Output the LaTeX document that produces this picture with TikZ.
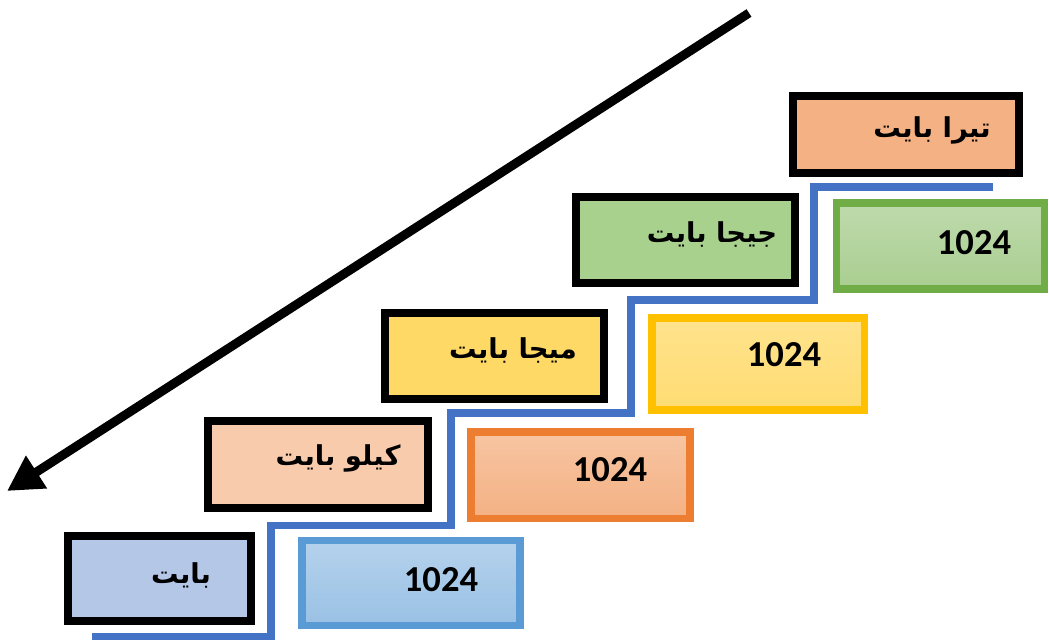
\documentclass[tikz,border=0pt]{standalone}
\usepackage{fontspec}
\setmainfont{Carlito}
\newfontfamily\arabicfont[Script=Arabic]{DejaVu Sans}
\TeXXeTstate=1
\usetikzlibrary{arrows.meta}

\definecolor{bytefill}{HTML}{B4C7E7}
\definecolor{kilofill}{HTML}{F8CBAD}
\definecolor{megafill}{HTML}{FFD966}
\definecolor{gigafill}{HTML}{A9D18E}
\definecolor{terafill}{HTML}{F4B183}
\definecolor{stairblue}{HTML}{4472C4}
\definecolor{numblue}{HTML}{5B9BD5}
\definecolor{numorange}{HTML}{ED7D31}
\definecolor{numgold}{HTML}{FFC000}
\definecolor{numgreen}{HTML}{70AD47}

\begin{document}
\begin{tikzpicture}[x=0.025cm, y=-0.025cm,
      unitbox/.style 2 args={draw=black, line width=5.7pt, inner sep=0pt,
                    minimum width=#1*0.025cm, minimum height=#2*0.025cm},
      numbox/.style 2 args={line width=5pt, inner sep=0pt,
                    minimum width=#1*0.025cm, minimum height=#2*0.025cm},
      unittxt/.style={inner sep=0pt, font=\arabicfont\bfseries\fontsize{19.5}{24}\selectfont},
      numtxt/.style={inner sep=0pt, font=\bfseries\fontsize{26}{30}\selectfont},
      stair/.style={draw=stairblue, line width=5pt}]

    \useasboundingbox (0,0) rectangle (1049,641);

    % staircase behind the boxes
    \draw[stair] (92,636) -- (271,636) |- (451,525) |- (631,413) |- (814,300) |- (993,187);

    % unit boxes (black frame)
    \node[unitbox={183}{85}, fill=bytefill] (byte) at (159.5,578.5) {};
    \node[unitbox={220}{87}, fill=kilofill] (kilo) at (318,464.5) {};
    \node[unitbox={219}{86}, fill=megafill] (mega) at (494.5,356) {};
    \node[unitbox={219}{86}, fill=gigafill] (giga) at (685.5,240) {};
    \node[unitbox={226}{77}, fill=terafill] (tera) at (906,134.5) {};

    \node[unittxt] (bytet) at (181,575) {\beginR بايت\endR};
    \node[unittxt] (kilot) at (338,458) {\beginR كيلو بايت\endR};
    \node[unittxt] (megat) at (513,350) {\beginR ميجا بايت\endR};
    \node[unittxt] (gigat) at (712,234) {\beginR جيجا بايت\endR};
    \node[unittxt] (terat) at (932,130) {\beginR تيرا بايت\endR};

    % factor boxes (coloured frame, light gradient)
    \node[numbox={218}{85}, draw=numblue,   top color=numblue!45!white,   bottom color=numblue!62!white]   (f1) at (411,582.5) {};
    \node[numbox={219}{86}, draw=numorange, top color=numorange!45!white, bottom color=numorange!60!white] (f2) at (580.5,475) {};
    \node[numbox={212}{92}, draw=numgold,   top color=numgold!45!white,   bottom color=numgold!55!white]   (f3) at (758,364) {};
    \node[numbox={208}{86}, draw=numgreen,  top color=numgreen!45!white,  bottom color=numgreen!60!white]  (f4) at (940,246) {};

    \node[numtxt] (f1t) at (441,580) {1024};
    \node[numtxt] (f2t) at (610,470) {1024};
    \node[numtxt] (f3t) at (784,355) {1024};
    \node[numtxt] (f4t) at (974,243) {1024};

    % direction arrow
    \coordinate (arrtop) at (749,13);
    \coordinate (arrtip) at (7,491);
    \draw[line width=6.4pt, -{Triangle[length=25pt, width=26pt]}] (arrtop) -- (arrtip);

\end{tikzpicture}
\end{document}
